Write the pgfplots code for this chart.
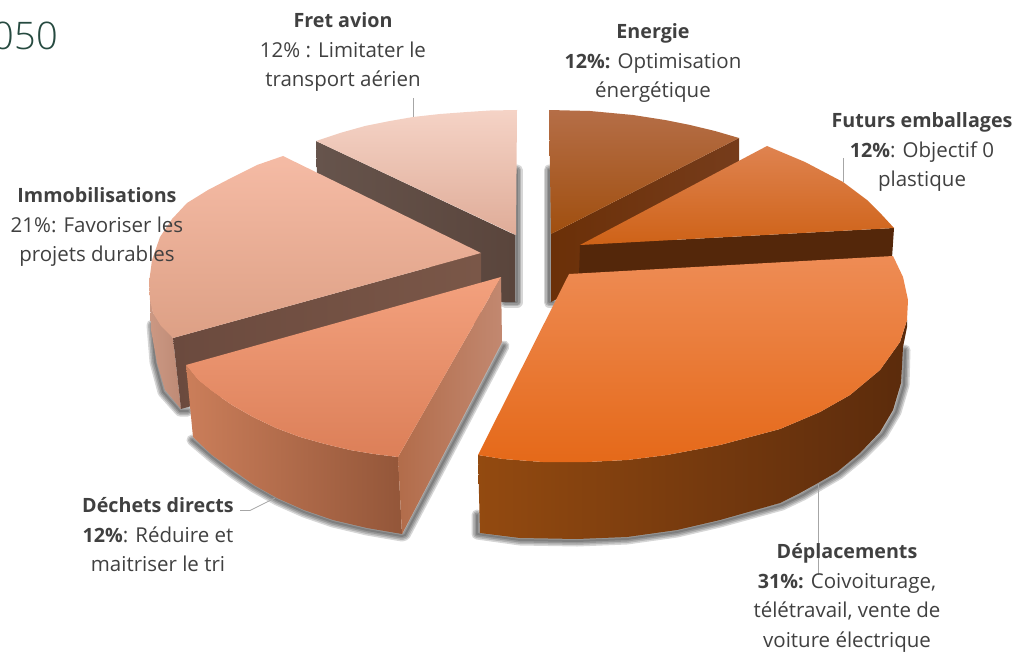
\documentclass[border=0pt]{standalone}
\usepackage{pgfplots}
\pgfplotsset{compat=1.18}
\usepackage{fontspec}
\setmainfont{Open Sans}
\newfontfamily\titlefont[UprightFont=* Light]{Open Sans}
\definecolor{lbl}{HTML}{404040}
\definecolor{lead}{HTML}{A6A6A6}
\definecolor{fretA}{HTML}{66544C}\definecolor{fretB}{HTML}{5A453C}
\definecolor{fretC}{HTML}{F5D3C6}\definecolor{fretD}{HTML}{DFAC98}
\definecolor{enA}{HTML}{6B3008}\definecolor{enB}{HTML}{6A2F0B}\definecolor{enC}{HTML}{763C1B}
\definecolor{enD}{HTML}{B56E47}\definecolor{enE}{HTML}{A9561A}\definecolor{enF}{HTML}{A04F0F}
\definecolor{imA}{HTML}{CB9883}\definecolor{imB}{HTML}{BE8A75}
\definecolor{imC}{HTML}{6B4A3E}\definecolor{imD}{HTML}{7A5748}
\definecolor{imE}{HTML}{F5BBA5}\definecolor{imF}{HTML}{DDA085}
\definecolor{fuA}{HTML}{54270A}
\definecolor{fuB}{HTML}{DF8350}\definecolor{fuC}{HTML}{DC6B20}\definecolor{fuD}{HTML}{CE6217}
\definecolor{deA}{HTML}{CB7E5A}\definecolor{deB}{HTML}{935639}
\definecolor{deC}{HTML}{B26C4A}\definecolor{deD}{HTML}{C28870}
\definecolor{deE}{HTML}{F3A17E}\definecolor{deF}{HTML}{DC7F58}
\definecolor{dpA}{HTML}{934A10}\definecolor{dpB}{HTML}{5B2B0B}\definecolor{dpC}{HTML}{5B2B0C}
\definecolor{dpD}{HTML}{EE8C55}\definecolor{dpE}{HTML}{F37A28}\definecolor{dpF}{HTML}{E56919}
\definecolor{ttl}{HTML}{264A40}
\tikzset{
  lab/.style={align=center,text=lbl,font=\fontsize{20.5}{29.5}\selectfont,inner sep=0pt},
}
\newcommand\B[1]{{\fontsize{19.7}{29.5}\selectfont\bfseries #1}}
\pgfplotsset{
  sh/.style={draw=black,opacity=0.16,line width=#1,line join=round,line cap=round,forget plot,no markers},
  face/.style={draw=none,forget plot,no markers},
}
\newcommand\shadows[1]{%
\addplot[sh=#1] coordinates {(477,515)(477,534)(520,540)(577,541)(627,539)(677,532)(720,522)(782,505)(803,495)(820,485)(839,474)(862,455)(883,434)(896,412)(904,385)(905,350)};
\addplot[sh=#1] coordinates {(192,440)(212,457)(233,473)(254,487)(277,500)(304,512)(333,522)(367,530)(402,536)(405,535)(504,346)};
\addplot[sh=#1] coordinates {(152,325)(155,362)(163,392)(180,411)(188,411)};
\addplot[sh=#1] coordinates {(517,170)(517,302)(505,302)};
\addplot[sh=#1] coordinates {(549,170)(549,302)(553,302)};
}
\begin{document}
\begin{tikzpicture}
\useasboundingbox (0,0) rectangle (1016pt,652pt);
\begin{axis}[at={(0,0)},anchor=south west,scale only axis,width=1016pt,height=652pt,
  xmin=0,xmax=1016,ymin=0,ymax=652,y dir=reverse,hide axis,clip=false]
% shadows
\shadows{11pt}
\shadows{8pt}
\shadows{5pt}
\shadows{2pt}
% Fret avion
\addplot[face,left color=fretA,right color=fretB] coordinates {(316,141)(515,235)(515,302)(502,302)(318,212)};
\addplot[face,top color=fretC,bottom color=fretD] coordinates {(316,141)(340,133)(365,126)(390,121)(413,117)(440,114)(467,112)(490,110.5)(517,110)(516,235)};
% Energie
\addplot[face,left color=enA,middle color=enB,right color=enC] coordinates {(551,234)(739,138)(739,205)(551,302)};
\addplot[face,top color=enD,middle color=enE,bottom color=enF] coordinates {(549,110)(590,111)(633,115)(665,120)(690,125)(715,131)(739,138)(551,234)};
% Immobilisations
\addplot[face,left color=imA,right color=imB] coordinates {(150,295)(153,313)(173,338)(181,409)(165,390)(157,363)(151,330)};
\addplot[face,left color=imC,right color=imD] coordinates {(173,338)(481,253)(481,322)(181,409)};
\addplot[face,top color=imE,bottom color=imF] coordinates {(283,156)(257,165)(233,177)(208,190)(187,203)(172,219)(160,237)(152,260)(149,283)(150,300)(153,313)(161,326)(173,338)(481,253)};
% Futurs emballages
\addplot[face,fill=fuA] coordinates {(580,245)(894,228)(892,258)(579,275)};
\addplot[face,top color=fuB,middle color=fuC,bottom color=fuD] coordinates {(580,245)(767,146)(805,162)(843,182)(867,200)(882,215)(894,228)};
% Dechets directs
\addplot[face,left color=deA,right color=deB] coordinates {(186,365)(193,437)(212,455)(233,470)(254,485)(277,498)(304,510)(333,520)(367,528)(402,534)(398,457)(374,454)(350,450)(325,444)(300,437)(276,428)(253,417)(232,405)(213,392)(198,380)};
\addplot[face,left color=deC,right color=deD] coordinates {(398,457)(501,277)(502,342)(402,534)};
\addplot[face,top color=deE,bottom color=deF] coordinates {(501,277)(186,365)(198,380)(213,392)(232,405)(253,417)(276,428)(300,437)(325,444)(350,450)(374,454)(398,457)};
% Deplacements
\addplot[face,left color=dpA,middle color=dpB,right color=dpC] coordinates {(478,455)(503,459)(543,462)(587,462)(627,460)(667,455)(720,445)(780,429)(820,412)(850,395)(880,370)(900,342)(907,320)(907,327)(903,347)(901,383)(893,410)(880,432)(860,453)(837,472)(818,483)(800,493)(780,503)(720,520)(677,530)(627,537)(577,539)(520,538)(480,533)};
\addplot[face,top color=dpD,middle color=dpE,bottom color=dpF] coordinates {(569,274)(893,256)(903,277)(908,300)(907,320)(900,342)(880,370)(850,395)(820,412)(780,429)(720,445)(667,455)(627,460)(587,462)(543,462)(503,459)(478,455)};
% leaders
\addplot[draw=lead,line width=0.8pt,forget plot,no markers] coordinates {(413,98)(413,117)};
\addplot[draw=lead,line width=0.8pt,forget plot,no markers] coordinates {(843,158)(843,182)};
\addplot[draw=lead,line width=0.8pt,forget plot,no markers] coordinates {(240,510.5)(250,510.5)(275,498)};
\addplot[draw=lead,line width=0.8pt,forget plot,no markers] coordinates {(818,484)(818,575)};
% text
\node[anchor=east,inner sep=0pt,text=ttl,font=\fontsize{38}{38}\titlefont] at (axis cs:58,36) {050};
\node[lab] at (axis cs:343,52) {\B{Fret avion}\\12\% : Limitater le\\transport aérien};
\node[lab] at (axis cs:653,63) {\B{Energie}\\\B{12\%:} Optimisation\\énergétique};
\node[lab] at (axis cs:922,152) {\B{Futurs emballages}\\\B{12\%}: Objectif 0\\plastique};
\node[lab] at (axis cs:97,227) {\B{Immobilisations}\\21\%: Favoriser les\\projets durables};
\node[lab] at (axis cs:158,535) {\B{Déchets directs}\\\B{12\%}: Réduire et\\maitriser le tri};
\node[lab] at (axis cs:847,598) {\B{Déplacements}\\\B{31\%:} Coivoiturage,\\télétravail, vente de\\voiture électrique};
\end{axis}
\end{tikzpicture}
\end{document}
